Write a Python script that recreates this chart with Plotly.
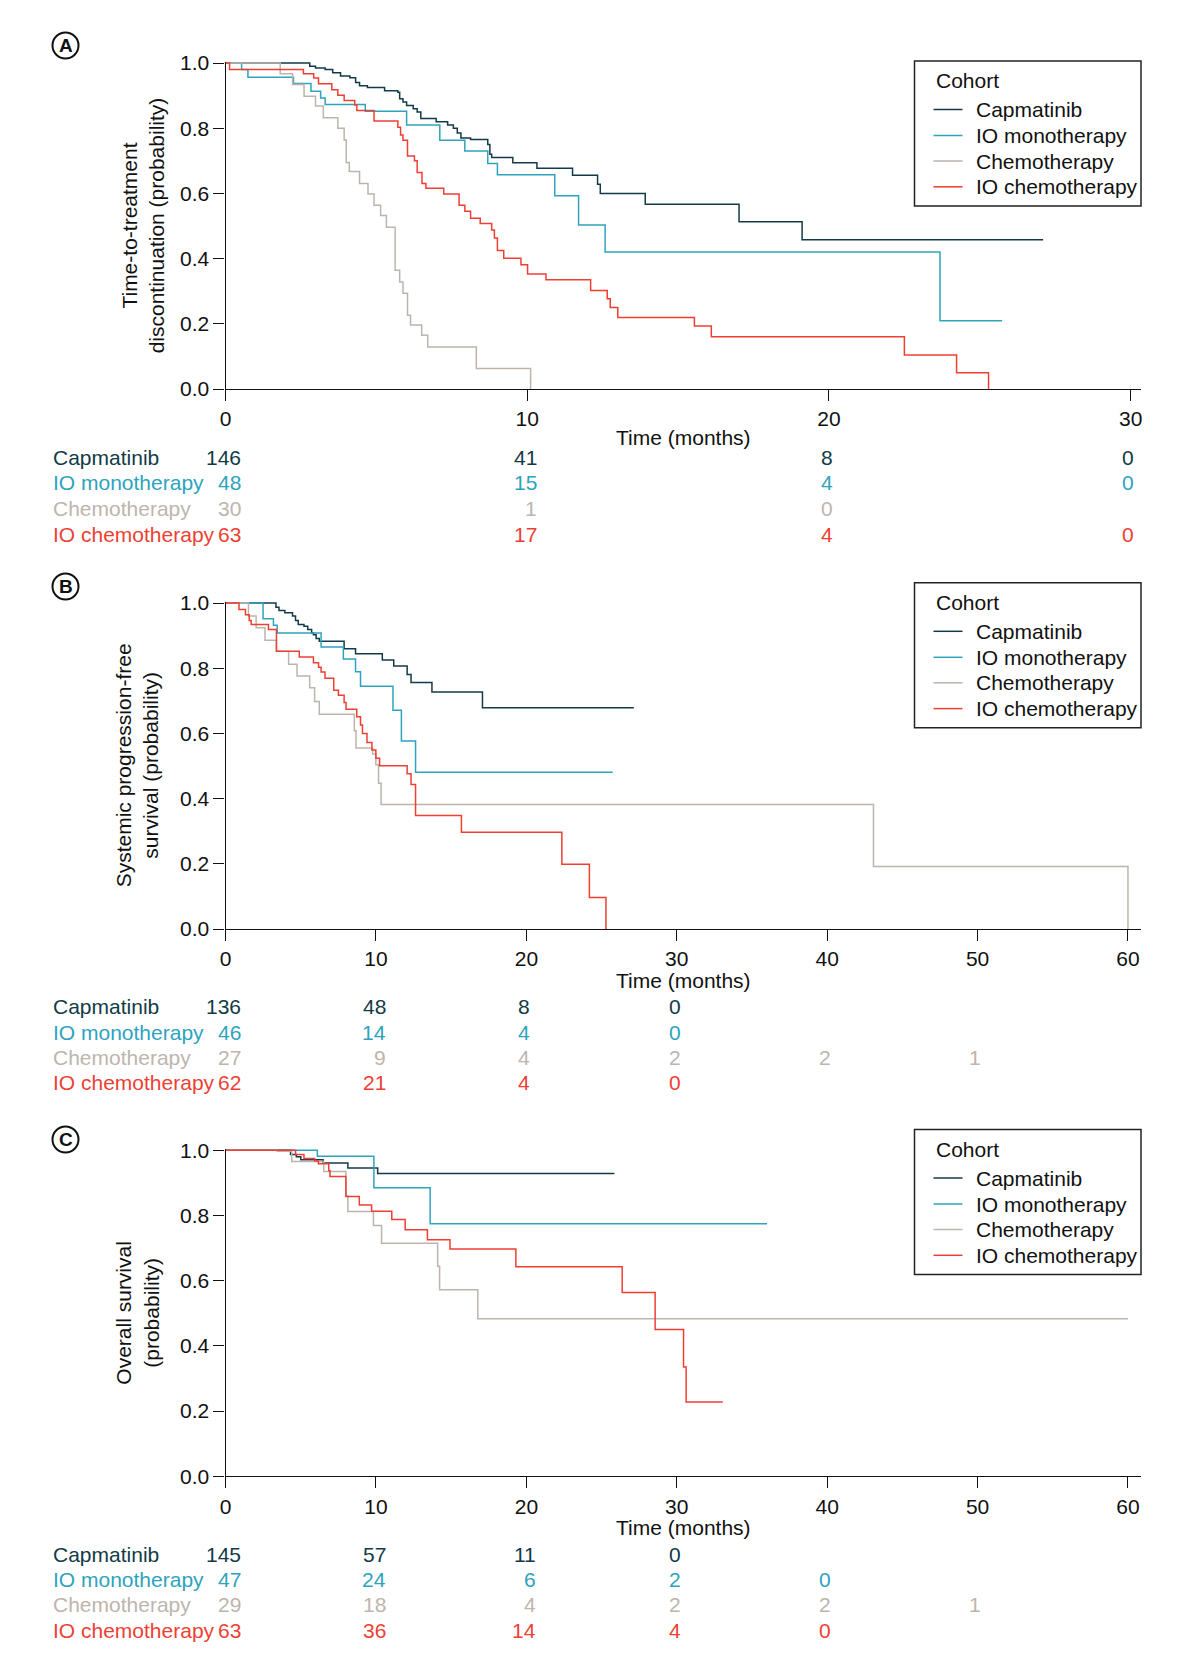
import plotly.graph_objects as go

W, H = 1185, 1653
FONT = "Liberation Sans, Arial, sans-serif"

cohorts = ["Capmatinib", "IO monotherapy", "Chemotherapy", "IO chemotherapy"]
colors = ["#123b47", "#2ea3bd", "#bdb5ad", "#ee3f34"]

# ---------------- Panel A: time-to-treatment discontinuation ----------------
A_cap_t = [0, 2.79, 2.98, 3.30, 3.55, 3.81, 4.12, 4.31, 4.44, 4.70, 5.27, 5.71, 5.77, 5.88, 6.00, 6.22,
           6.35, 6.47, 6.98, 7.36, 7.55, 7.68, 7.80, 8.12, 8.69, 8.76, 8.82, 9.52, 10.32, 11.50, 12.33,
           12.42, 13.91, 17.02, 19.11, 27.1]
A_cap_s = [1.0, 0.99, 0.985, 0.98, 0.97, 0.96, 0.955, 0.94, 0.93, 0.925, 0.915, 0.91, 0.89, 0.88, 0.87,
           0.86, 0.85, 0.83, 0.82, 0.81, 0.80, 0.785, 0.77, 0.765, 0.75, 0.72, 0.71, 0.694, 0.677, 0.656,
           0.628, 0.60, 0.567, 0.513, 0.458, 0.458]
A_mono_t = [0, 0.53, 0.74, 2.25, 2.83, 3.15, 3.30, 4.63, 6.00, 7.10, 7.93, 8.69, 9.01, 10.91, 11.70,
            12.58, 23.68, 25.74]
A_mono_s = [1.0, 0.98, 0.956, 0.937, 0.913, 0.893, 0.873, 0.852, 0.81, 0.763, 0.73, 0.692, 0.657, 0.593,
            0.503, 0.42, 0.209, 0.209]
A_chemo_t = [0, 1.81, 2.22, 2.60, 2.98, 3.24, 3.72, 3.93, 4.00, 4.10, 4.44, 4.72, 4.92, 5.14, 5.33, 5.62,
             5.77, 5.88, 6.03, 6.13, 6.50, 6.70, 8.31, 10.11]
A_chemo_s = [1.0, 0.967, 0.934, 0.898, 0.868, 0.832, 0.80, 0.764, 0.695, 0.667, 0.63, 0.598, 0.564, 0.532,
             0.496, 0.364, 0.328, 0.294, 0.226, 0.196, 0.165, 0.129, 0.063, 0.0]
A_ioc_t = [0, 0.13, 2.58, 2.92, 3.08, 3.52, 3.72, 3.93, 4.28, 4.35, 4.92, 5.71, 5.80, 5.88, 6.03, 6.26,
           6.35, 6.51, 6.64, 7.23, 7.74, 7.93, 8.12, 8.44, 8.82, 8.91, 9.01, 9.22, 9.79, 10.01, 10.62,
           12.10, 12.65, 12.75, 13.0, 15.54, 16.1, 22.5, 24.23, 25.29]
A_ioc_s = [1.0, 0.98, 0.967, 0.954, 0.936, 0.918, 0.901, 0.885, 0.871, 0.854, 0.822, 0.803, 0.779, 0.763,
           0.715, 0.70, 0.664, 0.63, 0.616, 0.598, 0.564, 0.545, 0.524, 0.508, 0.488, 0.463, 0.425, 0.401,
           0.381, 0.353, 0.335, 0.302, 0.277, 0.25, 0.219, 0.193, 0.16, 0.104, 0.05, 0.0]
A_risk_times = [0, 10, 20, 30]
A_risk = [[146, 41, 8, 0], [48, 15, 4, 0], [30, 1, 0, None], [63, 17, 4, 0]]

# ---------------- Panel B: systemic progression-free survival ----------------
B_cap_t = [0, 3.35, 3.55, 3.94, 4.45, 4.65, 4.83, 5.21, 5.46, 5.72, 5.84, 6.02, 6.23, 7.88, 8.64, 10.42,
           11.18, 12.07, 12.33, 13.72, 17.08, 27.14]
B_cap_s = [1.0, 0.987, 0.977, 0.97, 0.96, 0.946, 0.934, 0.929, 0.919, 0.908, 0.903, 0.891, 0.883, 0.86,
           0.844, 0.825, 0.807, 0.781, 0.756, 0.727, 0.679, 0.679]
B_mono_t = [0, 2.49, 3.18, 3.43, 6.35, 7.83, 8.64, 8.97, 11.13, 11.69, 12.63, 25.74]
B_mono_s = [1.0, 0.952, 0.932, 0.908, 0.865, 0.828, 0.789, 0.745, 0.671, 0.577, 0.481, 0.481]
B_chemo_t = [0, 1.52, 2.03, 2.62, 3.38, 4.19, 4.75, 5.59, 5.92, 6.23, 8.56, 8.67, 9.78, 9.99, 10.17, 10.34,
             43.08, 60.0]
B_chemo_s = [1.0, 0.96, 0.924, 0.886, 0.852, 0.812, 0.776, 0.74, 0.698, 0.659, 0.608, 0.555, 0.537, 0.504,
             0.447, 0.382, 0.192, 0.0]
B_ioc_t = [0, 0.89, 1.32, 1.57, 1.70, 2.85, 3.38, 4.90, 5.84, 6.18, 6.35, 6.61, 7.19, 7.50, 7.88, 8.01,
           8.72, 8.97, 9.10, 9.40, 9.73, 9.99, 10.24, 12.07, 12.33, 12.63, 15.68, 22.36, 24.19, 25.29]
B_ioc_s = [1.0, 0.98, 0.964, 0.946, 0.934, 0.919, 0.852, 0.834, 0.817, 0.803, 0.788, 0.769, 0.732, 0.717,
           0.695, 0.674, 0.651, 0.626, 0.60, 0.572, 0.549, 0.524, 0.501, 0.476, 0.443, 0.348, 0.297, 0.199,
           0.097, 0.0]
B_risk_times = [0, 10, 20, 30, 40, 50]
B_risk = [[136, 48, 8, 0, None, None], [46, 14, 4, 0, None, None], [27, 9, 4, 2, 2, 1],
          [62, 21, 4, 0, None, None]]

# ---------------- Panel C: overall survival ----------------
C_cap_t = [0, 4.32, 4.70, 5.00, 6.48, 8.13, 10.11, 25.85]
C_cap_s = [1.0, 0.987, 0.98, 0.971, 0.961, 0.946, 0.929, 0.929]
C_mono_t = [0, 6.10, 9.86, 13.60, 36.0]
C_mono_s = [1.0, 0.982, 0.885, 0.775, 0.775]
C_chemo_t = [0, 3.43, 4.40, 6.53, 8.00, 8.13, 9.83, 10.37, 14.10, 14.23, 16.77, 60.0]
C_chemo_s = [1.0, 0.997, 0.966, 0.935, 0.86, 0.812, 0.769, 0.715, 0.644, 0.572, 0.483, 0.483]
C_ioc_t = [0, 4.65, 5.21, 5.92, 6.17, 6.86, 6.94, 8.00, 8.89, 9.71, 11.05, 11.94, 13.42, 14.92, 19.30,
           26.37, 28.56, 30.45, 30.62, 33.06]
C_ioc_s = [1.0, 0.987, 0.975, 0.967, 0.959, 0.937, 0.92, 0.858, 0.832, 0.813, 0.788, 0.756, 0.726, 0.697,
           0.643, 0.564, 0.45, 0.335, 0.228, 0.228]
C_risk_times = [0, 10, 20, 30, 40, 50]
C_risk = [[145, 57, 11, 0, None, None], [47, 24, 6, 2, 0, None], [29, 18, 4, 2, 2, 1],
          [63, 36, 14, 4, 0, None]]

y_ticks = [0.0, 0.2, 0.4, 0.6, 0.8, 1.0]

panels = [
    dict(letter="A", sfx="",
         curves=[(A_cap_t, A_cap_s), (A_mono_t, A_mono_s), (A_chemo_t, A_chemo_s), (A_ioc_t, A_ioc_s)],
         xmax=30.34, xticks=[0, 10, 20, 30], top=61.7, bottom=389.0,
         ytitle="Time-to-treatment<br>discontinuation (probability)", ytitle_x=143,
         xtitle_y=437.0, rows_y=[457.6, 482.9, 508.2, 534.5], letter_y=45.5,
         risk_t=A_risk_times, risk=A_risk, legend_top=61.0),
    dict(letter="B", sfx="2",
         curves=[(B_cap_t, B_cap_s), (B_mono_t, B_mono_s), (B_chemo_t, B_chemo_s), (B_ioc_t, B_ioc_s)],
         xmax=60.86, xticks=[0, 10, 20, 30, 40, 50, 60], top=601.7, bottom=929.0,
         ytitle="Systemic progression-free<br>survival (probability)", ytitle_x=137,
         xtitle_y=980.5, rows_y=[1006.9, 1032.2, 1057.5, 1082.8], letter_y=586.5,
         risk_t=B_risk_times, risk=B_risk, legend_top=582.8),
    dict(letter="C", sfx="3",
         curves=[(C_cap_t, C_cap_s), (C_mono_t, C_mono_s), (C_chemo_t, C_chemo_s), (C_ioc_t, C_ioc_s)],
         xmax=60.86, xticks=[0, 10, 20, 30, 40, 50, 60], top=1149.0, bottom=1476.3,
         ytitle="Overall survival<br>(probability)", ytitle_x=137,
         xtitle_y=1527.6, rows_y=[1554.0, 1579.3, 1604.6, 1630.0], letter_y=1139.5,
         risk_t=C_risk_times, risk=C_risk, legend_top=1129.5),
]

X_LEFT, X_RIGHT = 225.6, 1140.9
DIGIT_W = 21 * 0.556
LEG_L, LEG_R, LEG_H = 914.5, 1141.0, 145.0
LEG_TITLE_DY = 19.5
LEG_ITEM_DY = [48.5, 74.5, 100.0, 125.8]


def px(xp):
    return xp / W


def py(yp):
    return 1 - yp / H


fig = go.Figure()
layout = dict(
    width=W, height=H, margin=dict(l=0, r=0, t=0, b=0, autoexpand=False),
    plot_bgcolor="white", paper_bgcolor="white",
    font=dict(family=FONT, size=21, color="#111111"),
    showlegend=False,
)
annotations = []
shapes = []

for p in panels:
    xa = "x" + p["sfx"]
    ya = "y" + p["sfx"]
    for i, (t, s) in enumerate(p["curves"]):
        fig.add_trace(go.Scatter(
            x=t, y=s, mode="lines", name=cohorts[i],
            line=dict(shape="hv", color=colors[i], width=1.5),
            xaxis=xa, yaxis=ya, hoverinfo="skip",
        ))
    layout["xaxis" + p["sfx"]] = dict(
        domain=[px(X_LEFT), px(X_RIGHT)], range=[0, p["xmax"]], anchor=ya,
        tickvals=p["xticks"], ticks="outside", ticklen=11, tickwidth=1.3, tickcolor="#111",
        showline=True, linecolor="#111", linewidth=1.3, showgrid=False, zeroline=False,
        tickfont=dict(size=21, color="#111"), automargin=False,
    )
    layout["yaxis" + p["sfx"]] = dict(
        domain=[py(p["bottom"]), py(p["top"])], range=[0, 1.004], anchor=xa,
        tickvals=y_ticks, ticktext=["%.1f" % v for v in y_ticks],
        ticks="outside", ticklen=11, tickwidth=1.3, tickcolor="#111",
        showline=True, linecolor="#111", linewidth=1.3, showgrid=False, zeroline=False,
        tickfont=dict(size=21, color="#111"), automargin=False,
    )
    # legend box (drawn as shapes + text)
    lt = p["legend_top"]
    shapes.append(dict(type="rect", xref="paper", yref="paper",
                       x0=px(LEG_L), x1=px(LEG_R), y0=py(lt + LEG_H), y1=py(lt),
                       line=dict(color="#222", width=1.5), fillcolor="white", layer="above"))
    annotations.append(dict(
        text="Cohort", xref="paper", yref="paper", x=px(933.5), y=py(lt + LEG_TITLE_DY),
        xanchor="left", yanchor="middle", showarrow=False, font=dict(size=21, color="#111"),
    ))
    for i in range(4):
        yy = lt + LEG_ITEM_DY[i]
        shapes.append(dict(type="line", xref="paper", yref="paper",
                           x0=px(933.5), x1=px(962.5), y0=py(yy), y1=py(yy),
                           line=dict(color=colors[i], width=1.5)))
        annotations.append(dict(
            text=cohorts[i], xref="paper", yref="paper", x=px(973.5), y=py(yy),
            xanchor="left", yanchor="middle", showarrow=False, font=dict(size=21, color="#111"),
        ))
    # y-axis title
    annotations.append(dict(
        text=p["ytitle"], xref="paper", yref="paper",
        x=px(p["ytitle_x"]), y=py((p["top"] + p["bottom"]) / 2),
        xanchor="center", yanchor="middle", textangle=-90, showarrow=False,
        font=dict(size=21, color="#111"),
    ))
    # x-axis title
    annotations.append(dict(
        text="Time (months)", xref="paper", yref="paper",
        x=px((X_LEFT + X_RIGHT) / 2), y=py(p["xtitle_y"]),
        xanchor="center", yanchor="middle", showarrow=False,
        font=dict(size=21, color="#111"),
    ))
    # panel letter in a circle
    cx, cy, r = 65.5, p["letter_y"], 13
    shapes.append(dict(type="circle", xref="paper", yref="paper",
                       x0=px(cx - r), x1=px(cx + r), y0=py(cy + r), y1=py(cy - r),
                       line=dict(color="#111", width=2)))
    annotations.append(dict(
        text="<b>%s</b>" % p["letter"], xref="paper", yref="paper",
        x=px(cx), y=py(cy), xanchor="center", yanchor="middle", showarrow=False,
        font=dict(size=19, color="#111"),
    ))
    # number-at-risk table
    for i, row in enumerate(p["risk"]):
        annotations.append(dict(
            text=cohorts[i], xref="paper", yref="paper", x=px(50.5), y=py(p["rows_y"][i]),
            xanchor="left", yanchor="middle", showarrow=False,
            font=dict(size=21, color=colors[i]),
        ))
    for j, tt in enumerate(p["risk_t"]):
        maxlen = max(len(str(row[j])) for row in p["risk"] if row[j] is not None)
        shift = maxlen * DIGIT_W / 2
        for i, row in enumerate(p["risk"]):
            v = row[j]
            if v is None:
                continue
            annotations.append(dict(
                text=str(v), xref=xa, yref="paper", x=tt, y=py(p["rows_y"][i]),
                xanchor="right", yanchor="middle", xshift=shift, showarrow=False,
                font=dict(size=21, color=colors[i]),
            ))

layout["annotations"] = annotations
layout["shapes"] = shapes
fig.update_layout(**layout)
fig.write_html(
    "out.html",
    config={"displayModeBar": False, "responsive": False},
    post_script="document.body.style.margin='0';document.body.style.padding='0';",
)
